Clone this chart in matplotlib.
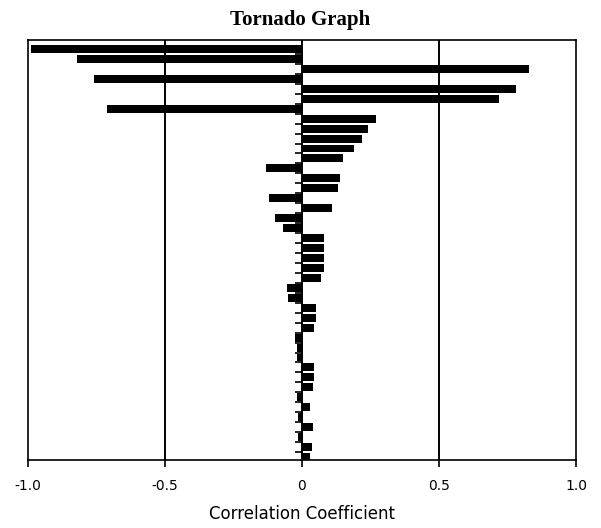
import numpy as np
import matplotlib
matplotlib.use("Agg")
import matplotlib.pyplot as plt
from matplotlib.markers import TICKLEFT

# correlation coefficients, top to bottom
coef = [-0.99, -0.82, 0.83, -0.76, 0.78, 0.72, -0.71,
        0.27, 0.24, 0.22, 0.19, 0.15, -0.13, 0.14, 0.13, -0.12,
        0.11, -0.10, -0.07, 0.08, 0.08, 0.08, 0.08, 0.07,
        -0.055, -0.05, 0.05, 0.05, 0.045, -0.025, -0.02, -0.02,
        0.045, 0.045, 0.04, -0.02, 0.03, -0.015, 0.04, -0.015,
        0.035, 0.03]
xticks = [-1.0, -0.5, 0, 0.5, 1.0]
xlabels = ["-1.0", "-0.5", "0", "0.5", "1.0"]

n = len(coef)
y = np.arange(n)
narrow = ["Liberation Sans Narrow", "DejaVu Sans"]

fig = plt.figure(figsize=(6.01, 5.28), dpi=100)
ax = fig.add_axes([28 / 601, 1 - 460 / 528, 548 / 601, 420 / 528])

ax.barh(y, coef, height=0.8, color="black", zorder=3)

# grid lines at -0.5, 0, 0.5
for v in [-0.5, 0, 0.5]:
    ax.axvline(v, color="black", lw=1.4, zorder=2)

# category ticks on the zero line
ax.plot(np.zeros(n), y + 0.5, ls="none", marker=TICKLEFT, markersize=5,
        color="black", mew=1.2, zorder=4)

ax.set_xlim(-1.0, 1.0)
ax.set_ylim(n - 0.7, -0.9)
ax.set_yticks([])
ax.set_xticks(xticks)
ax.set_xticklabels(xlabels, family=narrow, fontsize=10)
ax.tick_params(axis="x", direction="out", length=5, width=1.2, pad=9)
for s in ax.spines.values():
    s.set_linewidth(1.2)

ax.set_xlabel("Correlation Coefficient", family=narrow, fontsize=12, labelpad=8)
fig.text(0.5, 1 - 20 / 528, "Tornado Graph", ha="center", va="center",
         family=["Liberation Serif", "DejaVu Serif"], fontweight="bold", fontsize=15)

fig.savefig("out.png", dpi=100)
